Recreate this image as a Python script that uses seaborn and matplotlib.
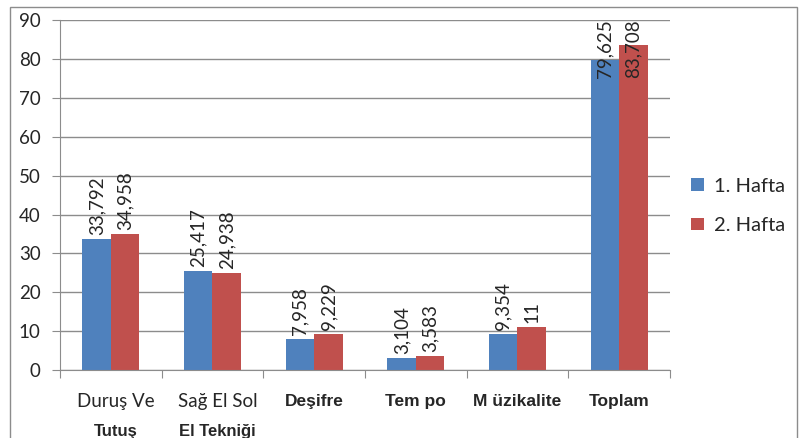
import pandas as pd
from matplotlib import pyplot as plt
from matplotlib.patches import Rectangle
import seaborn as sns

categories = ['Duruş Ve Tutuş', 'Sağ El Sol El Tekniği', 'Deşifre', 'Tempo', 'Müzikalite', 'Toplam']
line1 = ['Duruş Ve', 'Sağ El Sol', 'Deşifre', 'Tem po', 'M üzikalite', 'Toplam']
line2 = ['Tutuş', 'El Tekniği', '', '', '', '']
bold1 = [False, False, True, True, True, True]
hafta1 = [33.792, 25.417, 7.958, 3.104, 9.354, 79.625]
hafta2 = [34.958, 24.938, 9.229, 3.583, 11, 83.708]
series = ['1. Hafta', '2. Hafta']

df = pd.DataFrame({
    'kategori': categories * 2,
    'deger': hafta1 + hafta2,
    'seri': [series[0]] * 6 + [series[1]] * 6,
})

sns.set_style('white')
plt.rcParams['font.family'] = ['Lato', 'DejaVu Sans']

fig = plt.figure(figsize=(8, 4.38), dpi=100)
ax = fig.add_axes([0.075, 0.155, 0.7625, 0.799])
sns.barplot(data=df, x='kategori', y='deger', hue='seri', palette=['#4F81BD', '#C0504D'],
            width=0.56, saturation=1, linewidth=0, ax=ax)

# data labels; the tall Toplam labels are pulled down into the bars as in the original
for cont in ax.containers:
    for b in cont:
        h = b.get_height()
        txt = ('%g' % h).replace('.', ',')
        xc = b.get_x() + b.get_width() / 2
        if h > 70:
            ax.text(xc, 75.2, txt, rotation=90, ha='center', va='bottom', fontsize=13.5, clip_on=False)
        else:
            ax.annotate(txt, (xc, h), xytext=(0, 3), textcoords='offset points', rotation=90,
                        ha='center', va='bottom', fontsize=13.5)

ax.set_ylim(0, 90)
ax.set_yticks(range(0, 91, 10))
ax.set_xlim(-0.5, 5.5)
ax.yaxis.grid(True, color='#8c8c8c', linewidth=1)
ax.set_axisbelow(True)
for s in ['top', 'right']:
    ax.spines[s].set_visible(False)
for s in ['left', 'bottom']:
    ax.spines[s].set_color('#8c8c8c')
ax.tick_params(axis='y', left=True, length=6, color='#8c8c8c', labelsize=13.5, pad=8)
ax.set_xticks([i - 0.5 for i in range(7)])
ax.set_xticklabels([])
ax.tick_params(axis='x', bottom=True, length=6, color='#8c8c8c')
ax.set_xlabel('')
ax.set_ylabel('')

for i in range(6):
    if bold1[i]:
        ax.text(i, -0.09, line1[i], transform=ax.get_xaxis_transform(), ha='center', va='center',
                fontsize=12.5, fontweight='bold', family='Liberation Sans')
    else:
        ax.text(i + 0.05, -0.09, line1[i], transform=ax.get_xaxis_transform(), ha='center',
                va='center', fontsize=13.5)
    if line2[i]:
        ax.text(i + 0.05, -0.175, line2[i], transform=ax.get_xaxis_transform(), ha='center',
                va='center', fontsize=12, fontweight='bold', family='Liberation Sans')

ax.legend(loc='center left', bbox_to_anchor=(1.012, 0.469), frameon=False, fontsize=14.5,
          handlelength=0.6, handleheight=0.6, handletextpad=0.5, labelspacing=1.1,
          borderaxespad=0.3)

fig.patches.append(Rectangle((0.012, -0.1), 0.984, 1.0 - 7 / 438 + 0.1, transform=fig.transFigure,
                             fill=False, edgecolor='#8c8c8c', linewidth=1))

fig.savefig('out.png', dpi=100)
